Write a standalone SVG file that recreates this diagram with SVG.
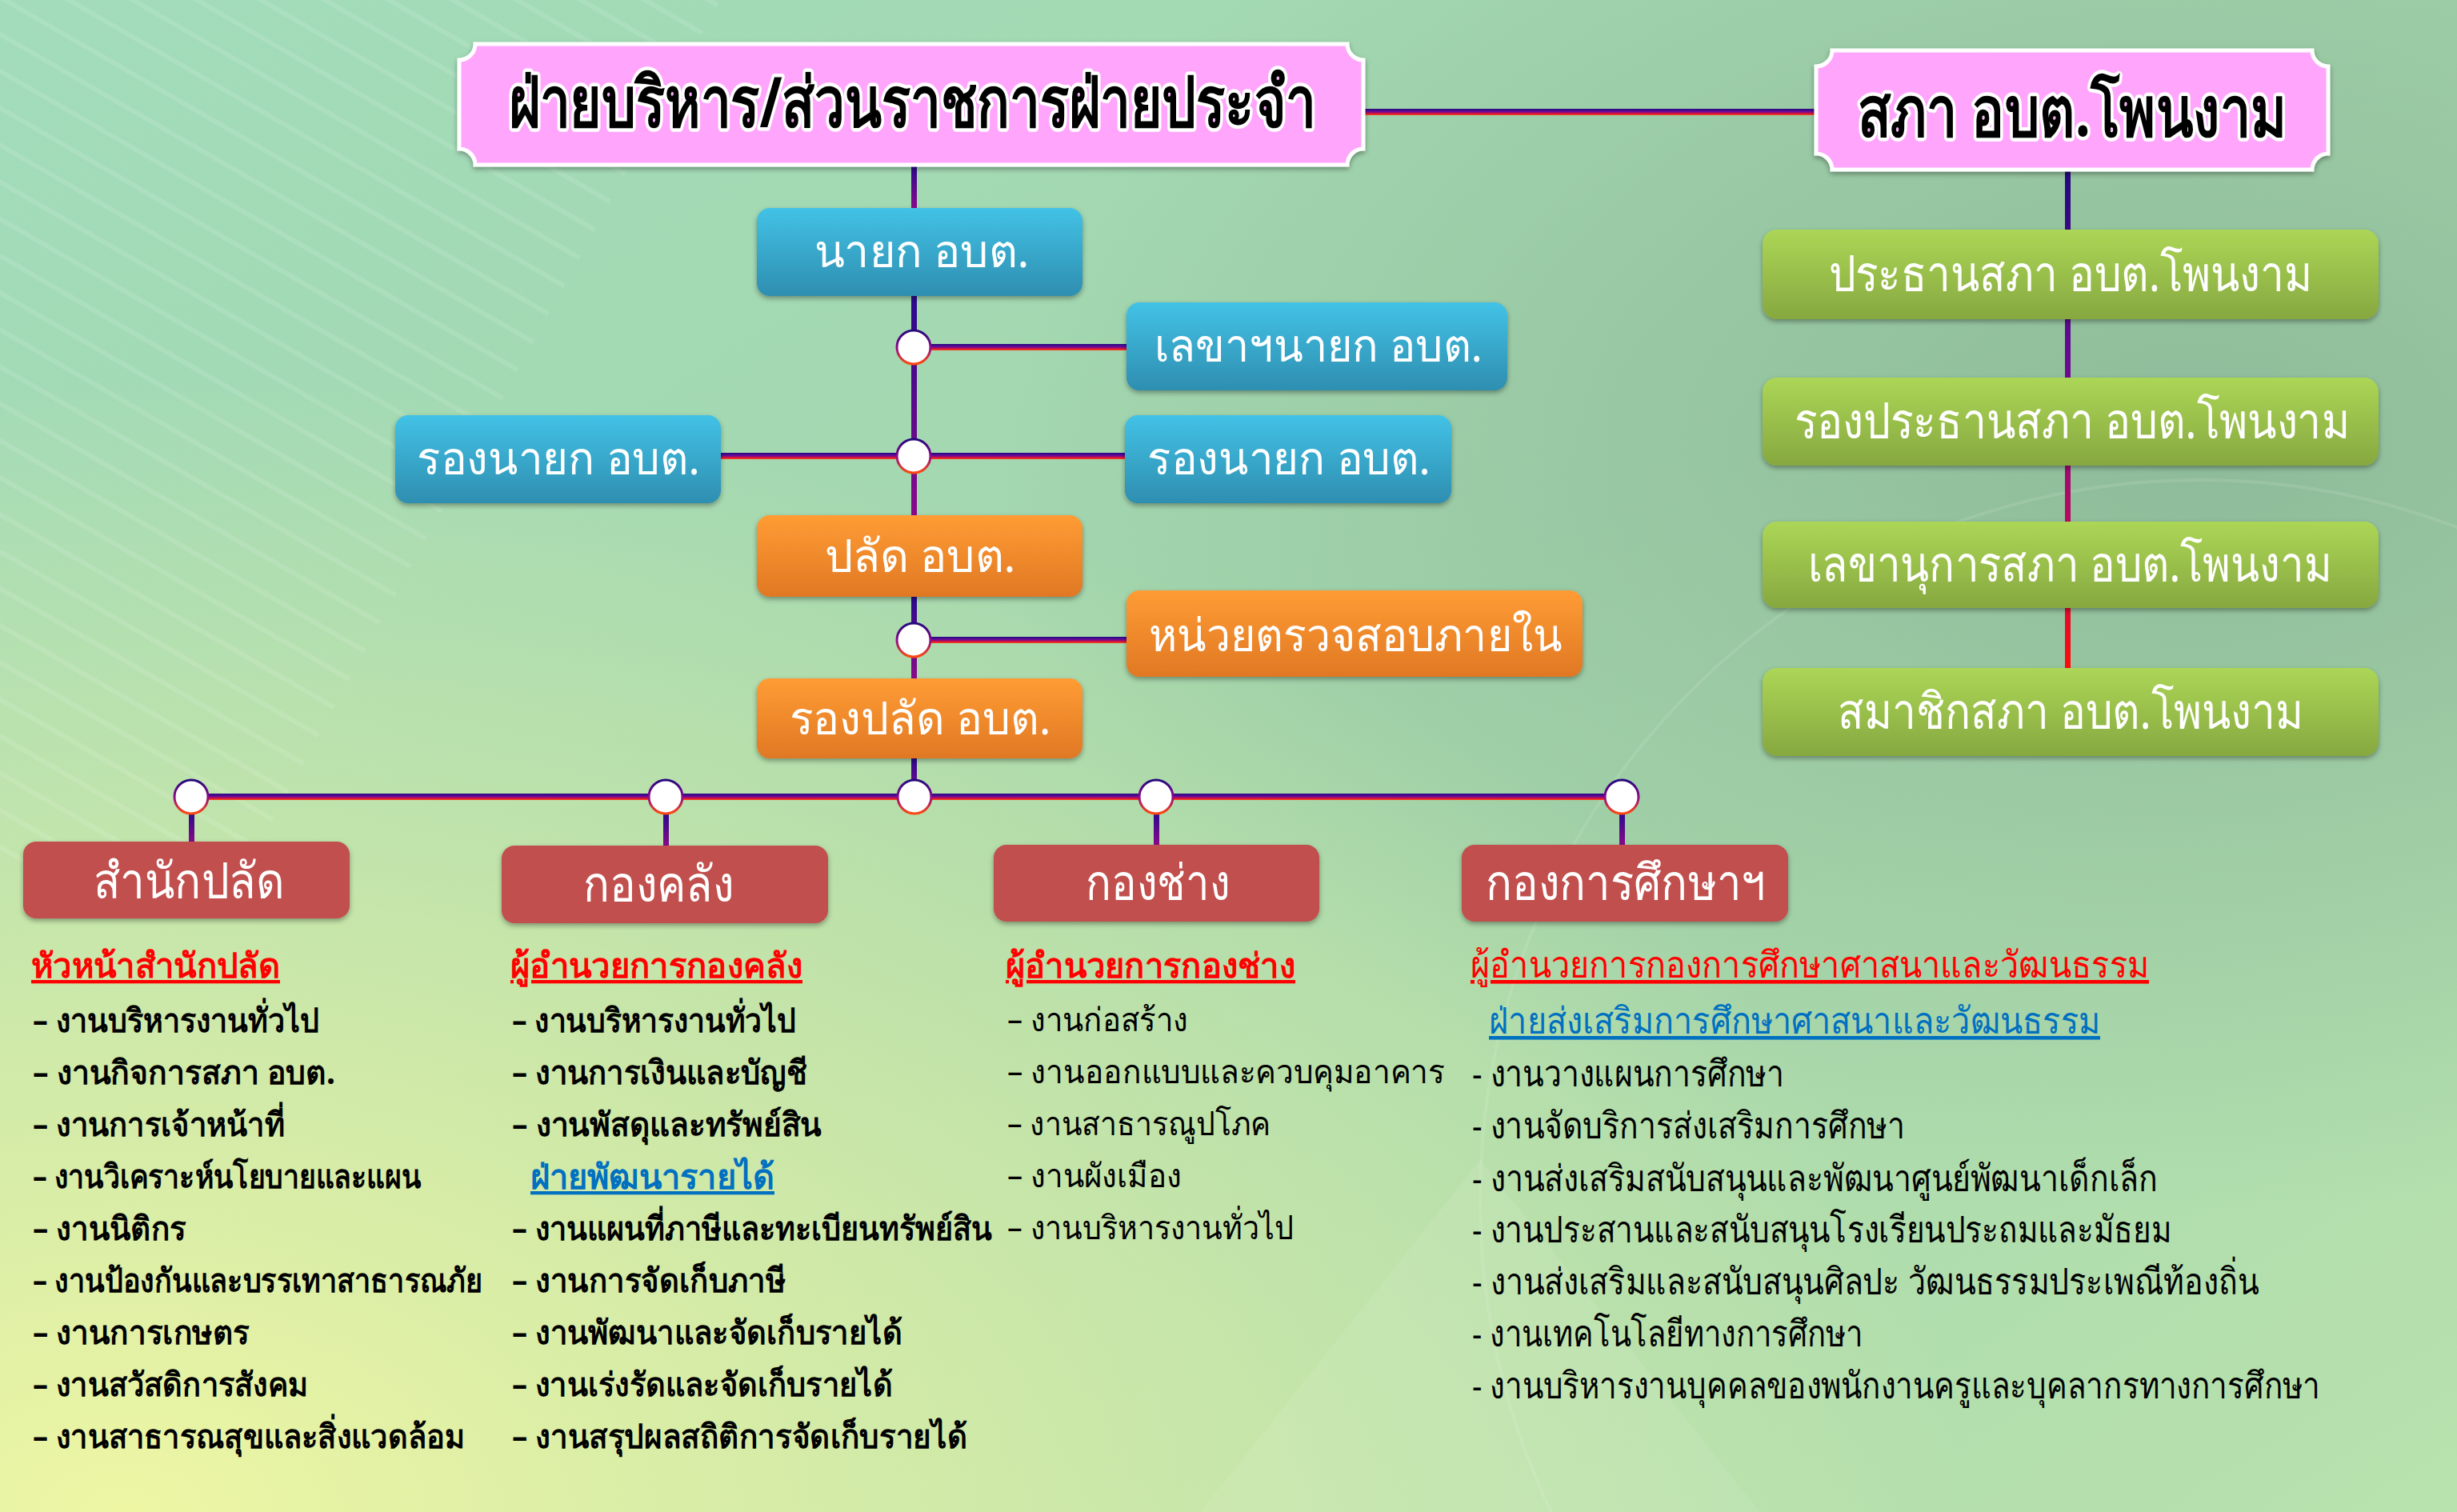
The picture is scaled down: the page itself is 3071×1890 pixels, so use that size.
<svg xmlns="http://www.w3.org/2000/svg" width="3071" height="1890" viewBox="0 0 3071 1890">
<defs>
<linearGradient id="bg" x1="0" y1="0" x2="1" y2="1">
<stop offset="0" stop-color="#a2dcba"/>
<stop offset="0.5" stop-color="#a4d6ac"/>
<stop offset="1" stop-color="#b8e2ae"/>
</linearGradient>
<radialGradient id="bgY" cx="0.05" cy="1" r="0.75">
<stop offset="0" stop-color="#eef6a4" stop-opacity="1"/>
<stop offset="1" stop-color="#eef6a4" stop-opacity="0"/>
</radialGradient>
<radialGradient id="bgD" cx="0.9" cy="0.3" r="0.5">
<stop offset="0" stop-color="#8bb898" stop-opacity="0.9"/>
<stop offset="1" stop-color="#8bb898" stop-opacity="0"/>
</radialGradient>
<linearGradient id="gBlue" x1="0" y1="0" x2="0" y2="1">
<stop offset="0" stop-color="#42c2e6"/>
<stop offset="1" stop-color="#2e8eb0"/>
</linearGradient>
<linearGradient id="gOrange" x1="0" y1="0" x2="0" y2="1">
<stop offset="0" stop-color="#ff9c34"/>
<stop offset="1" stop-color="#e07824"/>
</linearGradient>
<linearGradient id="gGreen" x1="0" y1="0" x2="0" y2="1">
<stop offset="0" stop-color="#acd656"/>
<stop offset="1" stop-color="#86a840"/>
</linearGradient>
<linearGradient id="gH" x1="0" y1="0" x2="0" y2="1">
<stop offset="0" stop-color="#24087e"/>
<stop offset="0.45" stop-color="#6a0a9a"/>
<stop offset="0.75" stop-color="#d8103a"/>
<stop offset="1" stop-color="#ff4a10"/>
</linearGradient>
<linearGradient id="gV" x1="0" y1="0" x2="0" y2="1">
<stop offset="0" stop-color="#2a0a8c"/>
<stop offset="1" stop-color="#8a0a8a"/>
</linearGradient>
<linearGradient id="gVR" gradientUnits="userSpaceOnUse" x1="0" y1="212" x2="0" y2="835">
<stop offset="0" stop-color="#24087e"/>
<stop offset="0.4" stop-color="#6c0a90"/>
<stop offset="0.7" stop-color="#b80a60"/>
<stop offset="1" stop-color="#ff0a0a"/>
</linearGradient>
<linearGradient id="gC" x1="0" y1="0" x2="0" y2="1">
<stop offset="0" stop-color="#24087e"/>
<stop offset="0.5" stop-color="#8a0a8a"/>
<stop offset="1" stop-color="#ff4a10"/>
</linearGradient>
<filter id="sh" x="-5%" y="-10%" width="110%" height="130%">
<feDropShadow dx="0" dy="3" stdDeviation="3" flood-color="#000" flood-opacity="0.35"/>
</filter>
<pattern id="stripes" width="40" height="40" patternUnits="userSpaceOnUse" patternTransform="rotate(-60)">
<rect x="0" y="0" width="6" height="40" fill="#ffffff" fill-opacity="0.1"/>
</pattern>
</defs>
<style>
.th{font-family:"Noto Sans","DejaVu Sans",sans-serif}
.bt{fill:#ffffff;font-size:57px;text-anchor:middle}
.gt{fill:#ffffff;font-size:62px;text-anchor:middle}
.rt{fill:#ffffff;font-size:62px;text-anchor:middle}
.pt{fill:#000000;font-size:86px;font-weight:bold;text-anchor:middle;stroke:#ffffff;stroke-width:9px;stroke-linejoin:round;paint-order:stroke}
.li{fill:#000000;font-size:41px}
.l4{fill:#000000;font-size:46px}
.lb{font-weight:bold}
.hr{fill:#ff0000;font-size:43px;font-weight:bold;text-decoration:underline}
.hr4{fill:#ff0000;font-size:46px;text-decoration:underline}
.hb{fill:#0070c0;font-size:43px;font-weight:bold;text-decoration:underline}
.hb4{fill:#0070c0;font-size:46px;text-decoration:underline}
.plaque{fill:#ffa6fc;stroke:#ffffff;stroke-width:5}
</style>

<rect x="0" y="0" width="3071" height="1890" fill="url(#bg)"/>
<rect x="0" y="0" width="3071" height="1890" fill="url(#bgD)"/>
<rect x="0" y="0" width="3071" height="1890" fill="url(#bgY)"/>
<path d="M0,0 H900 L300,1100 H0 Z" fill="url(#stripes)"/>
<path d="M1500,1890 L1850,1450 L2200,1890 Z" fill="#ffffff" fill-opacity="0.08"/>
<circle cx="2750" cy="1500" r="900" fill="none" stroke="#ffffff" stroke-opacity="0.1" stroke-width="4"/>

<g id="connectors">
<rect x="1704" y="136" width="566" height="8" fill="url(#gH)"/>
<rect x="1139" y="206" width="7" height="56" fill="url(#gV)"/>
<rect x="1139" y="370" width="7" height="276" fill="url(#gV)"/>
<rect x="1139" y="746" width="7" height="104" fill="url(#gV)"/>
<rect x="1139" y="948" width="7" height="50" fill="url(#gV)"/>
<rect x="1163" y="430" width="246" height="8" fill="url(#gH)"/>
<rect x="900" y="566" width="242" height="8" fill="url(#gH)"/>
<rect x="1163" y="566" width="244" height="8" fill="url(#gH)"/>
<rect x="1163" y="796" width="246" height="8" fill="url(#gH)"/>
<rect x="239" y="992" width="1788" height="8" fill="url(#gH)"/>
<rect x="236" y="1016" width="7" height="37" fill="url(#gV)"/>
<rect x="829" y="1016" width="7" height="43" fill="url(#gV)"/>
<rect x="1442" y="1016" width="7" height="41" fill="url(#gV)"/>
<rect x="2024" y="1016" width="7" height="41" fill="url(#gV)"/>
<rect x="2581" y="212" width="7" height="624" fill="url(#gVR)"/>
<circle cx="1142" cy="434" r="21" fill="#ffffff" stroke="url(#gC)" stroke-width="3"/>
<circle cx="1142" cy="570" r="21" fill="#ffffff" stroke="url(#gC)" stroke-width="3"/>
<circle cx="1142" cy="800" r="21" fill="#ffffff" stroke="url(#gC)" stroke-width="3"/>
<circle cx="239" cy="996" r="21" fill="#ffffff" stroke="url(#gC)" stroke-width="3"/>
<circle cx="832" cy="996" r="21" fill="#ffffff" stroke="url(#gC)" stroke-width="3"/>
<circle cx="1143" cy="996" r="21" fill="#ffffff" stroke="url(#gC)" stroke-width="3"/>
<circle cx="1445" cy="996" r="21" fill="#ffffff" stroke="url(#gC)" stroke-width="3"/>
<circle cx="2027" cy="996" r="21" fill="#ffffff" stroke="url(#gC)" stroke-width="3"/>
</g>

<g id="n-executive">
<path class="plaque" filter="url(#sh)" d="M594,55 H1684 A20,20 0 0 0 1704,75 V186 A20,20 0 0 0 1684,206 H594 A20,20 0 0 0 574,186 V75 A20,20 0 0 0 594,55 Z"/>
<text class="th pt" x="1140" y="158" textLength="1009" lengthAdjust="spacingAndGlyphs">ฝ่ายบริหาร/ส่วนราชการฝ่ายประจำ</text>
</g>
<g id="n-council">
<path class="plaque" filter="url(#sh)" d="M2290,63 H2890 A20,20 0 0 0 2910,83 V192 A20,20 0 0 0 2890,212 H2290 A20,20 0 0 0 2270,192 V83 A20,20 0 0 0 2290,63 Z"/>
<text class="th pt" x="2590" y="170" textLength="536" lengthAdjust="spacingAndGlyphs">สภา อบต.โพนงาม</text>
</g>

<g id="n-mayor">
<rect x="946" y="260" width="407" height="110" rx="16" fill="url(#gBlue)" filter="url(#sh)"/>
<text class="th bt" x="1152" y="334" textLength="269" lengthAdjust="spacingAndGlyphs">นายก อบต.</text>
</g>
<g id="n-secretary">
<rect x="1408" y="378" width="476" height="110" rx="16" fill="url(#gBlue)" filter="url(#sh)"/>
<text class="th bt" x="1648" y="452" textLength="410" lengthAdjust="spacingAndGlyphs">เลขาฯนายก อบต.</text>
</g>
<g id="n-deputy-left">
<rect x="494" y="519" width="407" height="110" rx="16" fill="url(#gBlue)" filter="url(#sh)"/>
<text class="th bt" x="698" y="593" textLength="354" lengthAdjust="spacingAndGlyphs">รองนายก อบต.</text>
</g>
<g id="n-deputy-right">
<rect x="1406" y="519" width="408" height="110" rx="16" fill="url(#gBlue)" filter="url(#sh)"/>
<text class="th bt" x="1611" y="593" textLength="354" lengthAdjust="spacingAndGlyphs">รองนายก อบต.</text>
</g>
<g id="n-clerk">
<rect x="946" y="644" width="407" height="102" rx="16" fill="url(#gOrange)" filter="url(#sh)"/>
<text class="th bt" x="1150" y="715" textLength="239" lengthAdjust="spacingAndGlyphs">ปลัด อบต.</text>
</g>
<g id="n-audit">
<rect x="1408" y="738" width="570" height="108" rx="16" fill="url(#gOrange)" filter="url(#sh)"/>
<text class="th bt" x="1694" y="814" textLength="517" lengthAdjust="spacingAndGlyphs">หน่วยตรวจสอบภายใน</text>
</g>
<g id="n-deputy-clerk">
<rect x="946" y="848" width="407" height="100" rx="16" fill="url(#gOrange)" filter="url(#sh)"/>
<text class="th bt" x="1150" y="918" textLength="327" lengthAdjust="spacingAndGlyphs">รองปลัด อบต.</text>
</g>

<g id="n-chair">
<rect x="2203" y="287" width="770" height="112" rx="18" fill="url(#gGreen)" filter="url(#sh)"/>
<text class="th gt" x="2588" y="364" textLength="605" lengthAdjust="spacingAndGlyphs">ประธานสภา อบต.โพนงาม</text>
</g>
<g id="n-vice-chair">
<rect x="2203" y="472" width="770" height="110" rx="18" fill="url(#gGreen)" filter="url(#sh)"/>
<text class="th gt" x="2590" y="548" textLength="694" lengthAdjust="spacingAndGlyphs">รองประธานสภา อบต.โพนงาม</text>
</g>
<g id="n-council-secretary">
<rect x="2203" y="652" width="770" height="108" rx="18" fill="url(#gGreen)" filter="url(#sh)"/>
<text class="th gt" x="2587" y="727" textLength="655" lengthAdjust="spacingAndGlyphs">เลขานุการสภา อบต.โพนงาม</text>
</g>
<g id="n-members">
<rect x="2203" y="835" width="770" height="110" rx="18" fill="url(#gGreen)" filter="url(#sh)"/>
<text class="th gt" x="2588" y="911" textLength="582" lengthAdjust="spacingAndGlyphs">สมาชิกสภา อบต.โพนงาม</text>
</g>

<g id="n-office">
<rect x="29" y="1052" width="408" height="96" rx="16" fill="#c0504d" filter="url(#sh)"/>
<text class="th rt" x="236" y="1123" textLength="239" lengthAdjust="spacingAndGlyphs">สำนักปลัด</text>
<text class="th hr" x="39" y="1222" textLength="311" lengthAdjust="spacingAndGlyphs">หัวหน้าสำนักปลัด</text>
<g class="th li lb">
<text x="41" y="1290" textLength="358" lengthAdjust="spacingAndGlyphs">– งานบริหารงานทั่วไป</text>
<text x="41" y="1355" textLength="378" lengthAdjust="spacingAndGlyphs">– งานกิจการสภา อบต.</text>
<text x="41" y="1420" textLength="315" lengthAdjust="spacingAndGlyphs">– งานการเจ้าหน้าที่</text>
<text x="41" y="1485" textLength="485" lengthAdjust="spacingAndGlyphs">– งานวิเคราะห์นโยบายและแผน</text>
<text x="41" y="1550" textLength="192" lengthAdjust="spacingAndGlyphs">– งานนิติกร</text>
<text x="41" y="1615" textLength="562" lengthAdjust="spacingAndGlyphs">– งานป้องกันและบรรเทาสาธารณภัย</text>
<text x="41" y="1680" textLength="271" lengthAdjust="spacingAndGlyphs">– งานการเกษตร</text>
<text x="41" y="1745" textLength="344" lengthAdjust="spacingAndGlyphs">– งานสวัสดิการสังคม</text>
<text x="41" y="1810" textLength="540" lengthAdjust="spacingAndGlyphs">– งานสาธารณสุขและสิ่งแวดล้อม</text>
</g>
</g>

<g id="n-finance">
<rect x="627" y="1057" width="408" height="97" rx="16" fill="#c0504d" filter="url(#sh)"/>
<text class="th rt" x="823" y="1127" textLength="188" lengthAdjust="spacingAndGlyphs">กองคลัง</text>
<text class="th hr" x="638" y="1222" textLength="365" lengthAdjust="spacingAndGlyphs">ผู้อำนวยการกองคลัง</text>
<g class="th li lb">
<text x="640" y="1290" textLength="355" lengthAdjust="spacingAndGlyphs">– งานบริหารงานทั่วไป</text>
<text x="640" y="1355" textLength="369" lengthAdjust="spacingAndGlyphs">– งานการเงินและบัญชี</text>
<text x="640" y="1420" textLength="387" lengthAdjust="spacingAndGlyphs">– งานพัสดุและทรัพย์สิน</text>
<text x="640" y="1550" textLength="600" lengthAdjust="spacingAndGlyphs">– งานแผนที่ภาษีและทะเบียนทรัพย์สิน</text>
<text x="640" y="1615" textLength="342" lengthAdjust="spacingAndGlyphs">– งานการจัดเก็บภาษี</text>
<text x="640" y="1680" textLength="488" lengthAdjust="spacingAndGlyphs">– งานพัฒนาและจัดเก็บรายได้</text>
<text x="640" y="1745" textLength="476" lengthAdjust="spacingAndGlyphs">– งานเร่งรัดและจัดเก็บรายได้</text>
<text x="640" y="1810" textLength="569" lengthAdjust="spacingAndGlyphs">– งานสรุปผลสถิติการจัดเก็บรายได้</text>
</g>
<text class="th hb" x="663" y="1486" textLength="305" lengthAdjust="spacingAndGlyphs">ฝ่ายพัฒนารายได้</text>
</g>

<g id="n-engineering">
<rect x="1242" y="1056" width="407" height="96" rx="16" fill="#c0504d" filter="url(#sh)"/>
<text class="th rt" x="1447" y="1125" textLength="180" lengthAdjust="spacingAndGlyphs">กองช่าง</text>
<text class="th hr" x="1257" y="1222" textLength="362" lengthAdjust="spacingAndGlyphs">ผู้อำนวยการกองช่าง</text>
<g class="th li">
<text x="1259" y="1289" textLength="226" lengthAdjust="spacingAndGlyphs">– งานก่อสร้าง</text>
<text x="1259" y="1354" textLength="547" lengthAdjust="spacingAndGlyphs">– งานออกแบบและควบคุมอาคาร</text>
<text x="1259" y="1419" textLength="329" lengthAdjust="spacingAndGlyphs">– งานสาธารณูปโภค</text>
<text x="1259" y="1484" textLength="218" lengthAdjust="spacingAndGlyphs">– งานผังเมือง</text>
<text x="1259" y="1549" textLength="358" lengthAdjust="spacingAndGlyphs">– งานบริหารงานทั่วไป</text>
</g>
</g>

<g id="n-education">
<rect x="1827" y="1056" width="408" height="96" rx="16" fill="#c0504d" filter="url(#sh)"/>
<text class="th rt" x="2032" y="1125" textLength="350" lengthAdjust="spacingAndGlyphs">กองการศึกษาฯ</text>
<text class="th hr4" x="1838" y="1222" textLength="848" lengthAdjust="spacingAndGlyphs">ผู้อำนวยการกองการศึกษาศาสนาและวัฒนธรรม</text>
<text class="th hb4" x="1861" y="1292" textLength="764" lengthAdjust="spacingAndGlyphs">ฝ่ายส่งเสริมการศึกษาศาสนาและวัฒนธรรม</text>
<g class="th l4">
<text x="1840" y="1358" textLength="390" lengthAdjust="spacingAndGlyphs">- งานวางแผนการศึกษา</text>
<text x="1840" y="1423" textLength="541" lengthAdjust="spacingAndGlyphs">- งานจัดบริการส่งเสริมการศึกษา</text>
<text x="1840" y="1489" textLength="857" lengthAdjust="spacingAndGlyphs">- งานส่งเสริมสนับสนุนและพัฒนาศูนย์พัฒนาเด็กเล็ก</text>
<text x="1840" y="1553" textLength="874" lengthAdjust="spacingAndGlyphs">- งานประสานและสนับสนุนโรงเรียนประถมและมัธยม</text>
<text x="1840" y="1618" textLength="983" lengthAdjust="spacingAndGlyphs">- งานส่งเสริมและสนับสนุนศิลปะ วัฒนธรรมประเพณีท้องถิ่น</text>
<text x="1840" y="1683" textLength="489" lengthAdjust="spacingAndGlyphs">- งานเทคโนโลยีทางการศึกษา</text>
<text x="1840" y="1748" textLength="1060" lengthAdjust="spacingAndGlyphs">- งานบริหารงานบุคคลของพนักงานครูและบุคลากรทางการศึกษา</text>
</g>
</g>
</svg>
